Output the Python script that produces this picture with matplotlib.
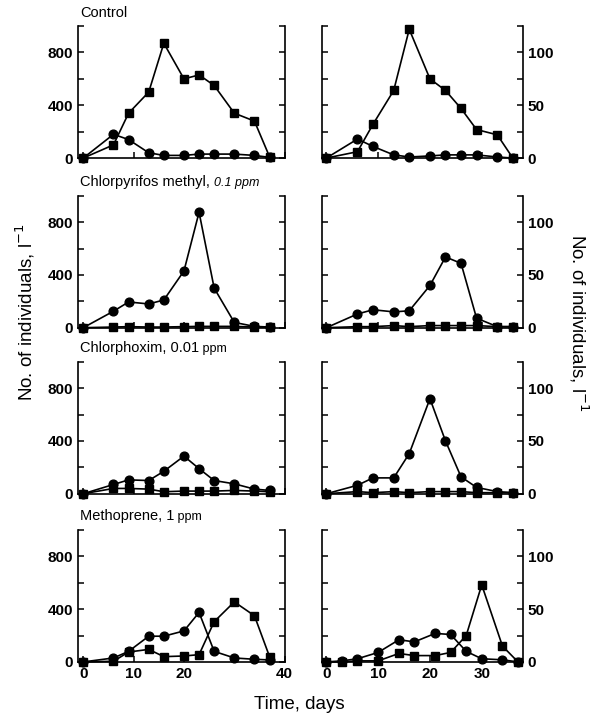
import matplotlib
matplotlib.use('Agg')
import matplotlib.pyplot as plt

plt.rcParams['font.family'] = ['Liberation Sans', 'DejaVu Sans']

# dias de amostragem
left_days = [0, 6, 9, 13, 16, 20, 23, 26, 30, 34, 37]
right_days = [0, 6, 9, 13, 16, 20, 23, 26, 29, 33, 36]
right_days_metho = [0, 3, 6, 10, 14, 17, 21, 24, 27, 30, 34, 37]

# coluna esquerda (escala 0-1000)
control_sq_l = [0, 100, 340, 500, 870, 600, 630, 550, 340, 280, 10]
control_ci_l = [0, 180, 140, 40, 20, 20, 30, 30, 30, 20, 5]
chlorpy_ci_l = [0, 125, 195, 180, 210, 430, 875, 300, 40, 10, 5]
chlorpy_sq_l = [0, 5, 8, 5, 5, 8, 10, 10, 10, 5, 5]
chlorph_ci_l = [0, 70, 105, 100, 170, 285, 190, 100, 75, 35, 25]
chlorph_sq_l = [0, 40, 40, 35, 15, 20, 20, 20, 25, 20, 15]
metho_ci_l = [0, 30, 80, 195, 195, 235, 375, 80, 30, 20, 15]
metho_sq_l = [0, 5, 75, 95, 40, 45, 55, 305, 455, 350, 40]

# coluna direita (escala 0-125)
control_sq_r = [0, 6, 32, 64, 122, 75, 64, 47, 27, 22, 0]
control_ci_r = [0, 18, 11, 3, 1, 2, 3, 3, 3, 1, 0]
chlorpy_ci_r = [0, 13, 17, 15, 16, 40, 67, 61, 9, 1, 1]
chlorpy_sq_r = [0, 1, 1, 2, 1, 2, 2, 2, 2, 1, 1]
chlorph_ci_r = [0, 8, 15, 15, 38, 90, 50, 16, 6, 2, 1]
chlorph_sq_r = [0, 2, 1, 2, 1, 2, 2, 2, 1, 1, 1]
metho_ci_r = [0, 1, 3, 9, 21, 19, 27, 26, 10, 3, 2, 0]
metho_sq_r = [0, 0, 1, 1, 8, 6, 6, 9, 25, 73, 15, 0]

titles = ['Control', 'Chlorpyrifos methyl, ', 'Chlorphoxim, 0.01', 'Methoprene, 1']
title_suffix = ['', '0.1 ppm', ' ppm', ' ppm']

left_data = [(left_days, control_sq_l, control_ci_l),
             (left_days, chlorpy_sq_l, chlorpy_ci_l),
             (left_days, chlorph_sq_l, chlorph_ci_l),
             (left_days, metho_sq_l, metho_ci_l)]
right_data = [(right_days, control_sq_r, control_ci_r),
              (right_days, chlorpy_sq_r, chlorpy_ci_r),
              (right_days, chlorph_sq_r, chlorph_ci_r),
              (right_days_metho, metho_sq_r, metho_ci_r)]

fig = plt.figure(figsize=(5.98, 7.25), dpi=100)

bottoms = [0.782, 0.548, 0.319, 0.087]
h = 0.182


def estilo(ax):
    ax.spines['top'].set_visible(False)
    for s in ['left', 'right', 'bottom']:
        ax.spines[s].set_linewidth(1.2)
    ax.tick_params(direction='in', length=4, width=1.1, labelsize=11)
    for lab in ax.get_xticklabels() + ax.get_yticklabels():
        lab.set_fontweight('bold')


def desenhar(ax, dias, sq, ci):
    ax.plot(dias, sq, '-s', color='black', lw=1.2, ms=5.5, clip_on=False, zorder=3)
    ax.plot(dias, ci, '-o', color='black', lw=1.2, ms=6.3, clip_on=False, zorder=3)


for i in range(4):
    # painel esquerdo
    axl = fig.add_axes([0.130, bottoms[i], 0.346, h])
    d, sq, ci = left_data[i]
    desenhar(axl, d, sq, ci)
    axl.set_xlim(-1.1, 40)
    axl.set_ylim(0, 1000)
    axl.set_yticks([0, 200, 400, 600, 800, 1000])
    axl.set_yticklabels(['0', '', '400', '', '800', ''])
    axl.tick_params(axis='y', right=True)
    axl.set_xticks([0, 10, 20, 30, 40])
    if i == 3:
        axl.set_xticklabels(['0', '10', '20', '', '40'])
    else:
        axl.set_xticklabels([])
    estilo(axl)

    t = axl.text(0.01, 1.05, titles[i], transform=axl.transAxes, fontsize=10.5,
                 ha='left', va='bottom')
    if title_suffix[i]:
        estilo_suf = 'italic' if i == 1 else 'normal'
        axl.annotate(title_suffix[i], xy=(1, 0), xycoords=t, va='bottom',
                     fontsize=9, fontstyle=estilo_suf)

    # painel direito
    axr = fig.add_axes([0.538, bottoms[i], 0.336, h])
    d, sq, ci = right_data[i]
    desenhar(axr, d, sq, ci)
    axr.set_xlim(-0.9, 37.9)
    axr.set_ylim(0, 125)
    axr.set_yticks([0, 25, 50, 75, 100, 125])
    axr.tick_params(axis='y', left=True, right=True, labelleft=False, labelright=True)
    axr.set_yticklabels(['0', '', '50', '', '100', ''])
    axr.set_xticks([0, 10, 20, 30])
    if i == 3:
        axr.set_xticklabels(['0', '10', '20', '30'])
    else:
        axr.set_xticklabels([])
    estilo(axr)

fig.text(0.042, 0.57, 'No. of individuals, l$^{-1}$', rotation=90, fontsize=13.5,
         ha='center', va='center')
fig.text(0.968, 0.555, 'No. of individuals, l$^{-1}$', rotation=-90, fontsize=13.5,
         ha='center', va='center')
fig.text(0.5, 0.028, 'Time, days', fontsize=13.5, ha='center', va='center')

plt.savefig('out.png', dpi=100)
plt.close()
